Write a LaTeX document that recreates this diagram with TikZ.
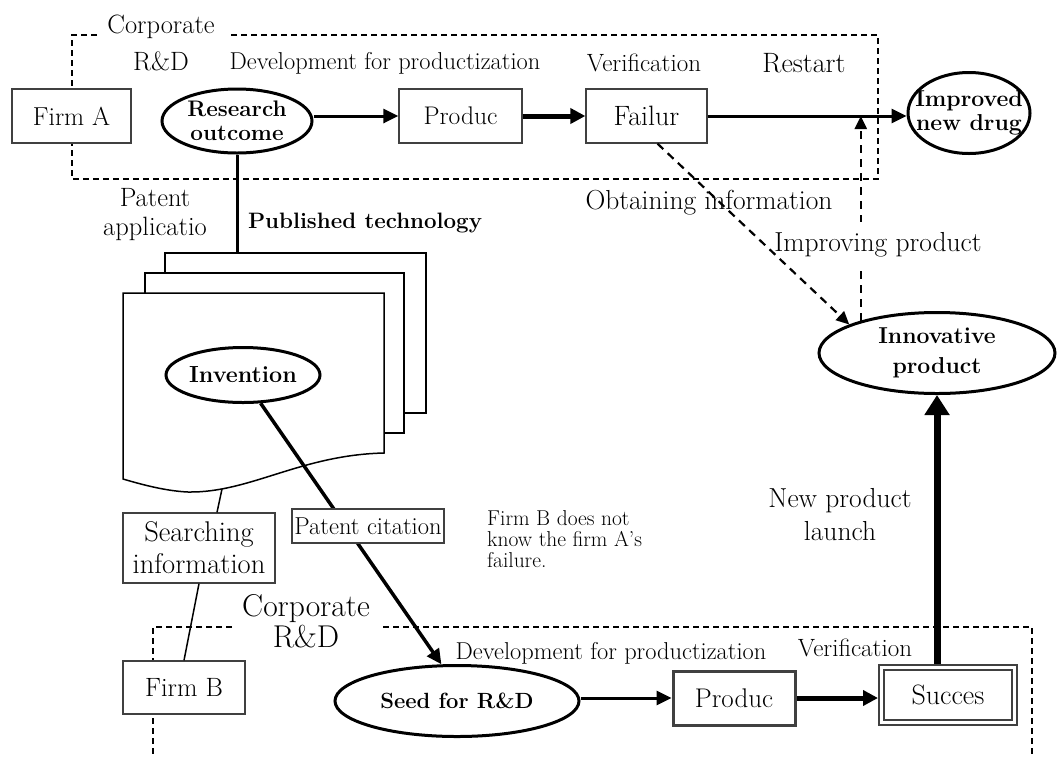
\documentclass[tikz,border=0pt]{standalone}
\usetikzlibrary{arrows.meta,shapes.geometric,calc}
\definecolor{bord}{HTML}{404040}
\newcommand\myfs[2]{\fontsize{#1}{#2}\selectfont}
\begin{document}
\begin{tikzpicture}[x=1pt,y=-1pt,
  box/.style={draw=bord, line width=1.3pt, fill=white, inner sep=0pt, align=center},
  boxtwo/.style={draw=bord, line width=3pt, fill=white, inner sep=0pt, align=center},
  ell/.style={ellipse, draw=black, line width=3pt, fill=white, inner sep=0pt},
  lbl/.style={inner sep=0pt, align=center},
  btxt/.style={inner sep=0pt, align=center, font=\bfseries\myfs{22.5}{24}},
  dashbox/.style={dash pattern=on 6pt off 4pt, line width=1.3pt},
  arr/.style={-{Triangle[length=15pt,width=14pt]}, line width=3pt},
  thickarr/.style={-{Triangle[length=15pt,width=15pt]}, line width=5pt},
  bigarr/.style={-{Triangle[length=20pt,width=24pt]}, line width=7pt},
  dasharr/.style={-{Triangle[length=13pt,width=12pt]}, line width=2.2pt, dash pattern=on 8pt off 6pt},
  doc/.style={draw=black, line width=1.5pt, fill=white},
  thin/.style={line width=1.5pt}]
\useasboundingbox (0,0) rectangle (1057,756);

% dashed corporate R&D frames
\draw[dashbox] (97,35) -- (72,35) -- (72,179) -- (878,179) -- (878,35) -- (228,35);
\draw[dashbox] (232,627) -- (153,627) -- (153,760);
\draw[dashbox] (383,627) -- (1032,627) -- (1032,760);

\node[lbl, font=\myfs{26.5}{37}] (corpa) at (161,43) {Corporate\\R\&D};
\node[lbl, font=\myfs{31.5}{31}] (corpb) at (306,621) {Corporate\\R\&D};

% top row
\node[box, minimum width=119pt, minimum height=54pt, font=\myfs{26}{28}] (firma) at (71.5,116) {Firm A};
\node[ell, minimum width=150pt, minimum height=64pt] (res) at (237,121) {};
\node[btxt] (rest) at (res) {Research\\outcome};
\node[box, minimum width=123pt, minimum height=54pt, font=\myfs{25.5}{28}] (prod) at (460.5,116) {Produc};
\node[box, minimum width=121pt, minimum height=54pt, font=\myfs{28}{30}] (fail) at (646.5,116) {Failur};
\node[ell, minimum width=122pt, minimum height=81pt] (imp) at (969,113) {};
\node[btxt, font=\bfseries\myfs{23}{24}] (impt) at (imp) {Improved\\new drug};

\node[lbl, font=\myfs{24.4}{26}] (dev1) at (385,63) {Development for productization};
\node[lbl, font=\myfs{25}{26}] (ver1) at (644,63) {Verification};
\node[lbl, font=\myfs{28}{30}] (restart) at (804,63) {Restart};

\draw[arr] (res.east |- prod.west) -- (prod.west);
\draw[thickarr] (prod.east) -- (fail.west);
\draw[arr] (fail.east) -- (fail.east -| imp.west);

% patent documents
\coordinate (doctop) at (237,253);
\coordinate (docbot) at (222,489);
\draw[line width=3pt] (res.south) -- (doctop);
\draw[doc] (165,253) rectangle (426,413);
\draw[doc] (145,273) rectangle (404,433);
\draw[doc] (123,293) -- (384,293) -- (384,453) .. controls (300,455) and (250,493) .. (188,492) .. controls (165,491) and (140,484) .. (123,479) -- cycle;

\node[lbl, font=\myfs{26.5}{29}] (patapp) at (155,215) {Patent\\applicatio};
\node[lbl, font=\bfseries\myfs{22.3}{24}] (pubtech) at (365,223) {Published technology};

\node[ell, minimum width=154pt, minimum height=55pt] (inv) at (243,375) {};
\node[btxt, font=\bfseries\myfs{23.3}{24}] (invt) at (inv) {Invention};

% right side
\node[ell, minimum width=236pt, minimum height=81pt] (inn) at (937,353) {};
\node[btxt, font=\bfseries\myfs{23}{30}] (innt) at (inn) {Innovative\\product};

\node[lbl, font=\myfs{27.5}{30}] (obt) at (709,203) {Obtaining information};
\draw[dasharr] (inn.157) -- (inn.157 |- fail.east);
\node[lbl, fill=white, minimum height=46pt, font=\myfs{27.5}{30}] (impr) at (878,245) {Improving product};
\draw[dasharr] ($(fail.south)+(11,0)$) -- (inn.162);

\node[lbl, font=\myfs{27.5}{33}] (launch) at (840,515) {New product\\launch};

% bottom row
\node[ell, minimum width=244pt, minimum height=71pt] (seed) at (457,701) {};
\node[btxt, font=\bfseries\myfs{22}{24}] (seedt) at (seed) {Seed for R\&D};
\node[boxtwo, minimum width=122pt, minimum height=54pt, font=\myfs{27}{28}] (prod2) at (734,698) {Produc};
\node[draw=bord, double=white, double distance=2.2pt, line width=2.4pt, outer sep=3.5pt, fill=white, inner sep=0pt, minimum width=133pt, minimum height=55pt, font=\myfs{28}{30}] (succ) at (948,695) {Succes};

\node[lbl, font=\myfs{24.4}{26}] (dev2) at (611,653) {Development for productization};
\node[lbl, font=\myfs{25}{26}] (ver2) at (855,648) {Verification};

\draw[arr] (seed.east |- prod2.west) -- (prod2.west);
\draw[thickarr] (prod2.east) -- (prod2.east -| succ.west);
\draw[bigarr] (inn.south |- succ.north) -- (inn.south);

% left lower
\draw[arr, line width=3.5pt] (inv.-58) -- (seed.113);
\node[box, minimum width=152pt, minimum height=34pt, font=\myfs{24.5}{26}] (cit) at (368,526) {Patent citation};
\node[box, minimum width=152pt, minimum height=70pt, font=\myfs{28.5}{32}] (search) at (199,548) {Searching\\information};
\node[box, minimum width=122pt, minimum height=53pt, font=\myfs{26.5}{28}] (firmb) at (184,687.5) {Firm B};
\draw[thin] (docbot) -- ($(search.north)+(18,0)$);
\draw[thin] (search.south) -- (firmb.north);

\node[lbl, align=left, anchor=north west, font=\myfs{21.5}{21}] (note) at (487,510) {Firm B does not\\know the firm A’s\\failure.};
\end{tikzpicture}
\end{document}
